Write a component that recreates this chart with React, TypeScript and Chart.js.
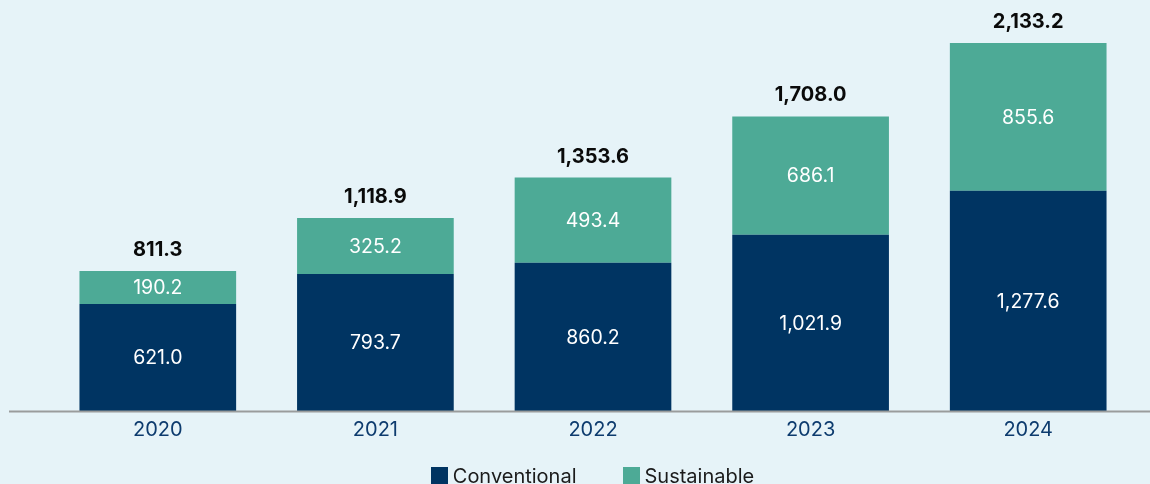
import React, { useEffect, useRef } from "react";
import { Chart, registerables } from "chart.js";

Chart.register(...registerables);

const categories = ["2020", "2021", "2022", "2023", "2024"];
const conventional = [621.0, 793.7, 860.2, 1021.9, 1277.6];
const sustainable = [190.2, 325.2, 493.4, 686.1, 855.6];
const totals = [811.3, 1118.9, 1353.6, 1708.0, 2133.2];
const seriesNames = ["Conventional", "Sustainable"];

const NAVY = "#003462";
const TEAL = "#4daa96";
const BG = "#e6f3f8";
const FONT = "Inter, 'Noto Sans', sans-serif";

const fmt = (v: number) =>
  v.toLocaleString("en-US", { minimumFractionDigits: 1, maximumFractionDigits: 1 });

const labelPlugin = {
  id: "valueLabels",
  afterDatasetsDraw(chart: any) {
    const ctx = chart.ctx;
    ctx.save();
    const bottom = chart.chartArea.bottom;
    ctx.strokeStyle = "#9a9c9c";
    ctx.lineWidth = 2;
    ctx.beginPath();
    ctx.moveTo(9, bottom + 0.5);
    ctx.lineTo(chart.width, bottom + 0.5);
    ctx.stroke();

    ctx.textAlign = "center";
    ctx.textBaseline = "middle";
    chart.data.datasets.forEach((ds: any, di: number) => {
      const meta = chart.getDatasetMeta(di);
      meta.data.forEach((bar: any, i: number) => {
        const yc = (bar.y + bar.base) / 2;
        ctx.fillStyle = "#ffffff";
        ctx.font = `400 19.5px ${FONT}`;
        ctx.fillText(fmt(ds.data[i]), bar.x, yc + 1);
      });
    });
    const topMeta = chart.getDatasetMeta(1);
    topMeta.data.forEach((bar: any, i: number) => {
      ctx.fillStyle = "#0a0a0a";
      ctx.font = `700 20px ${FONT}`;
      ctx.fillText(fmt(totals[i]), bar.x, bar.y - 21);
    });
    ctx.restore();
  },
};

export default function App() {
  const ref = useRef<HTMLCanvasElement | null>(null);
  useEffect(() => {
    if (!ref.current) return;
    const chart = new Chart(ref.current, {
      type: "bar",
      data: {
        labels: categories,
        datasets: [
          { label: seriesNames[0], data: conventional, backgroundColor: NAVY, borderWidth: 0 },
          { label: seriesNames[1], data: sustainable, backgroundColor: TEAL, borderWidth: 0 },
        ],
      },
      options: {
        animation: false,
        responsive: true,
        maintainAspectRatio: false,
        layout: { padding: { left: 49, right: 13, top: 0, bottom: 35 } },
        plugins: { legend: { display: false }, tooltip: { enabled: false } },
        scales: {
          x: {
            stacked: true,
            grid: { display: false, drawTicks: false },
            border: { display: false },
            categoryPercentage: 0.708,
            barPercentage: 1,
            ticks: { color: "#0d3b6e", font: { family: FONT, size: 20 }, padding: 7 },
          } as any,
          y: {
            stacked: true,
            display: false,
            min: 0,
            max: 2383,
          },
        },
      },
      plugins: [labelPlugin],
    });
    return () => chart.destroy();
  }, []);

  const colors = [NAVY, TEAL];
  return (
    <div style={{ position: "fixed", left: 0, top: 0, width: 1150, height: 484, background: BG, overflow: "hidden" }}>
      <canvas ref={ref} style={{ position: "absolute", left: 0, top: 0, width: 1150, height: 484 }} />
      <div style={{ position: "absolute", left: 0, right: 0, top: 464, display: "flex", justifyContent: "center", gap: 46, fontFamily: FONT, fontSize: 20, color: "#1b1b1b", paddingLeft: 35 }}>
        {seriesNames.map((n, i) => (
          <div key={n} style={{ display: "flex", alignItems: "center", gap: 5 }}>
            <span style={{ display: "inline-block", width: 17, height: 18, background: colors[i] }} />
            <span>{n}</span>
          </div>
        ))}
      </div>
    </div>
  );
}
